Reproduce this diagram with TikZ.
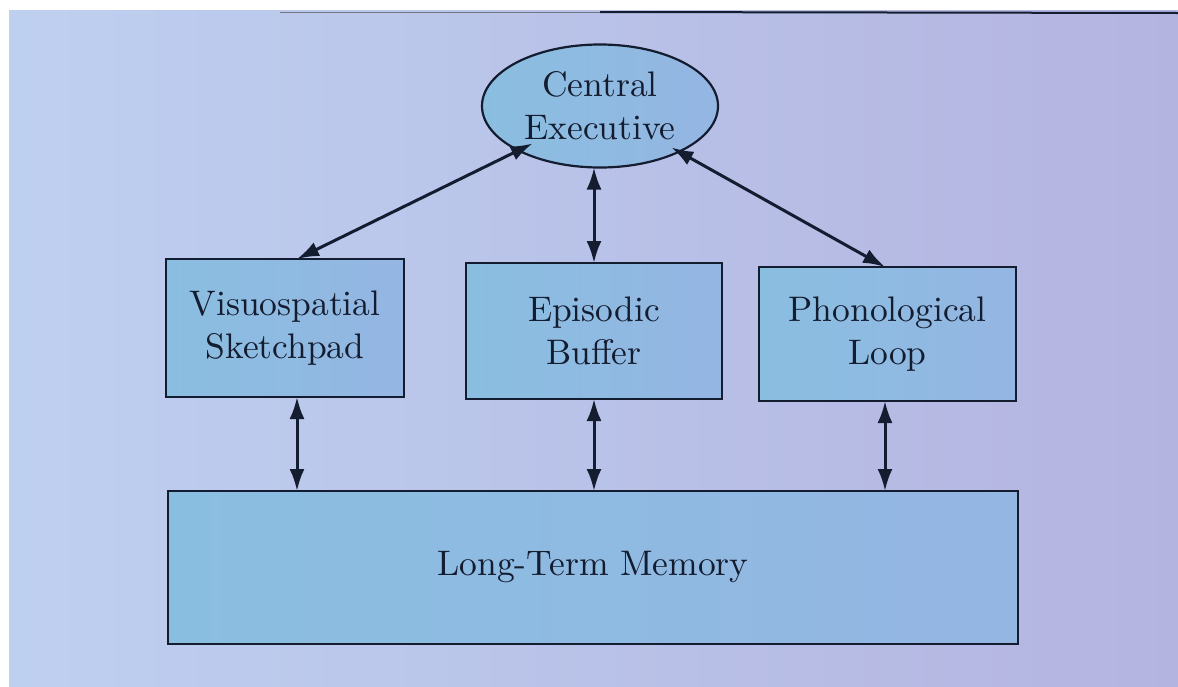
\documentclass[tikz,border=0pt]{standalone}
\usepackage{fontspec}
\usetikzlibrary{arrows.meta,shapes.geometric}
\newfontfamily\diagfont{lmroman10-regular.otf}
\definecolor{pageL}{RGB}{190,208,240}
\definecolor{pageR}{RGB}{180,180,224}
\definecolor{boxfill}{RGB}{138,190,224}
\definecolor{boxfillR}{RGB}{148,182,226}
\definecolor{ink}{RGB}{20,28,48}
\tikzset{
  comp/.style={draw=ink, line width=2.2pt, left color=boxfill, right color=boxfillR,
    font=\diagfont\fontsize{35.5}{43}\selectfont, text=ink, align=center,
    inner sep=0pt, outer sep=0pt},
  link/.style={draw=ink, line width=3pt,
    {Latex[length=22pt,width=15pt]}-{Latex[length=22pt,width=15pt]}},
}
\begin{document}
\begin{tikzpicture}[x=1pt,y=-1pt]
  % page background with the white scan border
  \fill[white] (0,0) rectangle (1178,686);
  \shade[left color=pageL, right color=pageR] (9,10) rectangle (1178,686);
  \useasboundingbox (0,0) rectangle (1178,686);
  % page edge along the top
  \draw[ink!60, line width=1pt] (280,12) -- (600,12);
  \draw[ink, line width=2pt] (600,12) -- (1178,13);

  % components
  \node[comp, ellipse, minimum width=236pt, minimum height=123pt] (ce) at (600,106)
    {Central\\Executive};
  \node[comp, minimum width=238pt, minimum height=138pt] (vs) at (285,328)
    {Visuospatial\\Sketchpad};
  \node[comp, minimum width=256pt, minimum height=136pt] (eb) at (594,331)
    {Episodic\\Buffer};
  \node[comp, minimum width=257pt, minimum height=134pt] (pl) at (887.5,334)
    {Phonological\\Loop};
  \node[comp, minimum width=850pt, minimum height=153pt] (ltm) at (593,567.5)
    {Long-Term Memory};

  % links between the executive and the slave systems
  \draw[link] (ce.south west) ++(16,-6) coordinate (ceL) (ceL) -- (vs.north -| 297,0);
  \draw[link] (ce.south -| 594,0) -- (eb.north -| 594,0);
  \draw[link] (ce.south east) ++(-12,-2) coordinate (ceR) (ceR) -- (pl.north -| 885,0);

  % links down to long-term memory
  \draw[link] (vs.south -| 297,0) -- (ltm.north -| 297,0);
  \draw[link] (eb.south -| 594,0) -- (ltm.north -| 594,0);
  \draw[link] (pl.south -| 885,0) -- (ltm.north -| 885,0);
\end{tikzpicture}
\end{document}
